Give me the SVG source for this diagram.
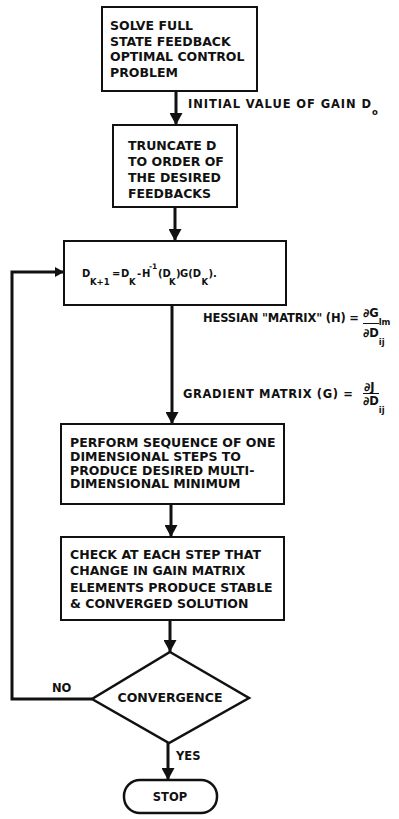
<svg xmlns="http://www.w3.org/2000/svg" width="399" height="819" viewBox="0 0 399 819">
<defs>
<marker id="ah" markerUnits="userSpaceOnUse" markerWidth="13" markerHeight="13" refX="12" refY="6.5" orient="auto">
<path d="M0,0 L12,6.5 L0,13 z" fill="#111"/>
</marker>
<marker id="ahs" markerUnits="userSpaceOnUse" markerWidth="10" markerHeight="10" refX="9" refY="5" orient="auto">
<path d="M0,0 L9,5 L0,10 z" fill="#111"/>
</marker>
<style>
.box{fill:#fff;stroke:#111;stroke-width:2}
.t{font-family:"DejaVu Sans","Liberation Sans",sans-serif;font-weight:bold;font-size:12.5px;fill:#111}
.l{font-family:"DejaVu Sans","Liberation Sans",sans-serif;font-weight:bold;font-size:11.5px;fill:#111}
.f{font-family:"DejaVu Sans","Liberation Sans",sans-serif;font-weight:bold;font-size:10px;fill:#111}
.s{font-family:"DejaVu Sans","Liberation Sans",sans-serif;font-weight:bold;font-size:8.5px;fill:#111}
.u{font-family:"DejaVu Sans","Liberation Sans",sans-serif;font-weight:bold;font-size:7.5px;fill:#111}
.c{fill:none;stroke:#111;stroke-width:3}
</style>
</defs>
<rect width="399" height="819" fill="#fff"/>
<g id="connectors">
<line class="c" x1="176" y1="91" x2="176" y2="125" marker-end="url(#ah)"/>
<line class="c" x1="175" y1="207" x2="175" y2="241" marker-end="url(#ah)"/>
<line class="c" x1="172" y1="305" x2="172" y2="424" marker-end="url(#ah)"/>
<line class="c" x1="171" y1="504" x2="171" y2="537" marker-end="url(#ah)"/>
<line class="c" x1="170" y1="620" x2="170" y2="652" marker-end="url(#ah)"/>
<line class="c" x1="168" y1="743" x2="168" y2="780" marker-end="url(#ah)"/>
<polyline class="c" points="92,699 12,699 12,272 64,272" marker-end="url(#ahs)"/>
<text class="l" x="188" y="108"><tspan textLength="183">INITIAL VALUE OF GAIN D</tspan><tspan class="s" dy="7">o</tspan></text>
<text class="l" x="203" y="322" textLength="156">HESSIAN "MATRIX" (H) =</text>
<text class="l" x="363" y="317">∂G<tspan class="s" dy="8">lm</tspan></text>
<line x1="363" y1="323.5" x2="379" y2="323.5" stroke="#111" stroke-width="1"/>
<text class="l" x="363" y="337">∂D<tspan class="s" dy="8">ij</tspan></text>
<text class="l" x="183" y="398" textLength="170">GRADIENT MATRIX (G) =</text>
<text class="l" x="364" y="391">∂J</text>
<line x1="363" y1="393.5" x2="379" y2="393.5" stroke="#111" stroke-width="1"/>
<text class="l" x="363" y="405">∂D<tspan class="s" dy="8">ij</tspan></text>
<text class="l" x="52" y="692">NO</text>
<text class="l" x="176" y="760">YES</text>
</g>
<g id="solve">
<rect class="box" x="102" y="7" width="155" height="84"/>
<text class="t" x="110" y="29.5">SOLVE FULL</text>
<text class="t" x="110" y="45.5">STATE FEEDBACK</text>
<text class="t" x="110" y="61.3">OPTIMAL CONTROL</text>
<text class="t" x="110" y="77.2">PROBLEM</text>
</g>
<g id="truncate">
<rect class="box" x="113" y="125" width="124" height="82"/>
<text class="t" x="128" y="149.5">TRUNCATE D</text>
<text class="t" x="128" y="166">TO ORDER OF</text>
<text class="t" x="128" y="181.5">THE DESIRED</text>
<text class="t" x="128" y="197.5">FEEDBACKS</text>
</g>
<g id="update">
<rect class="box" x="64" y="241" width="222" height="64"/>
<text class="f" y="277"><tspan x="82">D</tspan><tspan class="s" x="90" y="285">K+1</tspan><tspan x="112" y="277">=</tspan><tspan x="121">D</tspan><tspan class="s" x="129" y="285">K</tspan><tspan x="137" y="277">-</tspan><tspan x="142">H</tspan><tspan class="u" x="149" y="269">-1</tspan><tspan x="158" y="277">(D</tspan><tspan class="s" x="169" y="285">K</tspan><tspan x="176" y="277">)</tspan><tspan x="180">G(D</tspan><tspan class="s" x="201.5" y="285">K</tspan><tspan x="208.5" y="277">).</tspan></text>
</g>
<g id="perform">
<rect class="box" x="61" y="424" width="223" height="80"/>
<text class="t" x="70" y="447">PERFORM SEQUENCE OF ONE</text>
<text class="t" x="70" y="460.5">DIMENSIONAL STEPS TO</text>
<text class="t" x="70" y="474.5">PRODUCE DESIRED MULTI-</text>
<text class="t" x="70" y="488">DIMENSIONAL MINIMUM</text>
</g>
<g id="check">
<rect class="box" x="61" y="537" width="223" height="83"/>
<text class="t" x="70" y="558.5">CHECK AT EACH STEP THAT</text>
<text class="t" x="70" y="575">CHANGE IN GAIN MATRIX</text>
<text class="t" x="70" y="591.5">ELEMENTS PRODUCE STABLE</text>
<text class="t" x="70" y="607.5">&amp; CONVERGED SOLUTION</text>
</g>
<g id="convergence">
<polygon points="170,652 249,698 169,743 92,699" fill="#fff" stroke="#111" stroke-width="2.5"/>
<text class="t" x="170" y="702" text-anchor="middle">CONVERGENCE</text>
</g>
<g id="stop">
<rect x="124" y="780" width="93" height="33" rx="16" ry="16" fill="#fff" stroke="#111" stroke-width="2.5"/>
<text class="l" x="170" y="801" text-anchor="middle">STOP</text>
</g>
</svg>
